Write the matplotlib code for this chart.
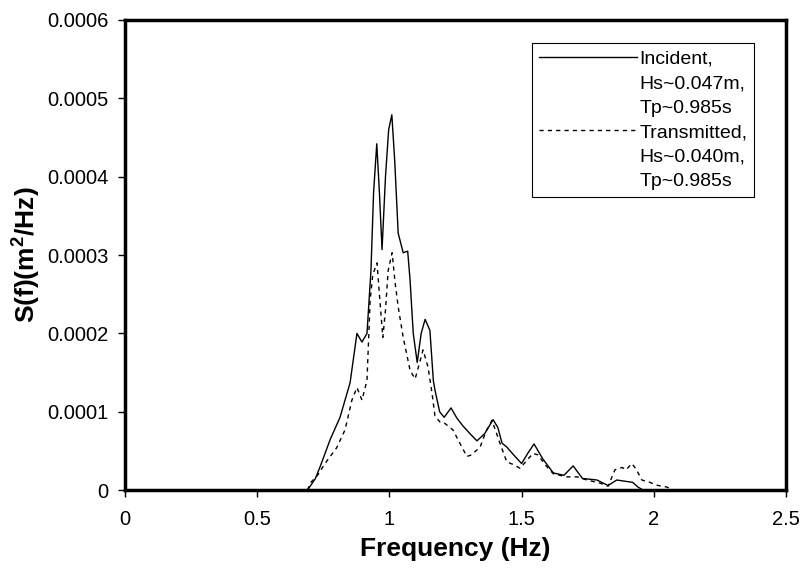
import matplotlib
matplotlib.use("Agg")
import matplotlib.pyplot as plt
from matplotlib.lines import Line2D
from matplotlib.ticker import FixedLocator, FuncFormatter

plt.rcParams["font.family"] = ["Liberation Sans", "DejaVu Sans"]
plt.rcParams["mathtext.fontset"] = "custom"
plt.rcParams["mathtext.rm"] = "Liberation Sans"
plt.rcParams["mathtext.bf"] = "Liberation Sans:bold"

S_UNIT = 1e-4  # spectra below are written in units of 1e-4 m^2/Hz

freq_inc = [0.69, 0.72, 0.74, 0.775, 0.813, 0.851, 0.877, 0.896, 0.915, 0.93,
            0.94, 0.952, 0.962, 0.972, 0.985, 0.997, 1.009, 1.02, 1.033, 1.052,
            1.069, 1.078, 1.09, 1.105, 1.12, 1.135, 1.153, 1.166, 1.172, 1.19,
            1.207, 1.233, 1.255, 1.278, 1.305, 1.331, 1.36, 1.392, 1.41, 1.426,
            1.444, 1.47, 1.50, 1.525, 1.547, 1.58, 1.62, 1.66, 1.695, 1.73,
            1.785, 1.827, 1.86, 1.92, 1.94, 1.96]
s_inc = [0.0, 0.15, 0.32, 0.64, 0.93, 1.37, 2.0, 1.89, 2.0, 2.8,
         3.8, 4.42, 3.8, 3.07, 4.0, 4.6, 4.79, 4.2, 3.28, 3.03,
         3.05, 2.68, 2.0, 1.63, 2.0, 2.18, 2.04, 1.40, 1.28, 1.0,
         0.93, 1.05, 0.92, 0.82, 0.72, 0.63, 0.72, 0.90, 0.80, 0.60,
         0.55, 0.45, 0.34, 0.48, 0.59, 0.40, 0.22, 0.19, 0.31, 0.15,
         0.13, 0.06, 0.13, 0.10, 0.04, 0.0]

freq_tr = [0.69, 0.70, 0.73, 0.756, 0.80, 0.832, 0.858, 0.877, 0.896, 0.915,
           0.927, 0.937, 0.953, 0.962, 0.975, 0.985, 0.995, 1.01, 1.021, 1.033,
           1.052, 1.078, 1.097, 1.112, 1.127, 1.146, 1.161, 1.172, 1.191, 1.203,
           1.24, 1.274, 1.293, 1.31, 1.343, 1.365, 1.388, 1.418, 1.444, 1.467,
           1.494, 1.52, 1.543, 1.562, 1.59, 1.62, 1.67, 1.71, 1.747, 1.797,
           1.827, 1.853, 1.88, 1.895, 1.917, 1.933, 1.955, 1.985, 2.016, 2.05,
           2.07]
s_tr = [0.0, 0.09, 0.20, 0.34, 0.54, 0.77, 1.15, 1.31, 1.15, 1.40,
        2.43, 2.75, 2.90, 2.5, 1.95, 2.3, 2.8, 3.03, 2.66, 2.34,
        1.95, 1.53, 1.42, 1.6, 1.79, 1.57, 1.24, 0.95, 0.87, 0.87,
        0.77, 0.55, 0.43, 0.45, 0.55, 0.75, 0.89, 0.60, 0.36, 0.33,
        0.28, 0.38, 0.47, 0.45, 0.32, 0.21, 0.17, 0.17, 0.13, 0.09,
        0.05, 0.26, 0.29, 0.26, 0.34, 0.27, 0.13, 0.10, 0.06, 0.04,
        0.0]

x_ticks = [0, 0.5, 1, 1.5, 2, 2.5]
y_ticks = [0, 0.0001, 0.0002, 0.0003, 0.0004, 0.0005, 0.0006]

inc_label = ["Incident,", "Hs~0.047m,", "Tp~0.985s"]
tr_label = ["Transmitted,", "Hs~0.040m,", "Tp~0.985s"]

fig = plt.figure(figsize=(8.02, 5.70), dpi=100)
ax = fig.add_axes([0.156, 0.140, 0.824, 0.825])

ax.plot(freq_inc, [v * S_UNIT for v in s_inc], color="black", lw=1.0)
ax.plot(freq_tr, [v * S_UNIT for v in s_tr], color="black", lw=1.0,
        dashes=(3, 3))

ax.set_xlim(0, 2.5)
ax.set_ylim(0, 0.0006)
ax.xaxis.set_major_locator(FixedLocator(x_ticks))
ax.yaxis.set_major_locator(FixedLocator(y_ticks))
ax.xaxis.set_major_formatter(FuncFormatter(lambda v, _: f"{v:g}"))
ax.yaxis.set_major_formatter(
    FuncFormatter(lambda v, _: "0" if v == 0 else f"{v:.4f}"))
ax.tick_params(direction="out", length=5, width=1, labelsize=14.5)
ax.tick_params(axis="y", pad=7)
ax.tick_params(axis="x", pad=9)
for sp in ax.spines.values():
    sp.set_linewidth(2.5)

ax.set_xlabel("Frequency (Hz)", fontsize=19, fontweight="bold", labelpad=6)
ax.set_ylabel(r"S(f)(m$^{\mathbf{2}}$/Hz)", fontsize=19, fontweight="bold",
              labelpad=4)

# one legend row per text line, with the sample line beside the first line
blank = Line2D([], [], color="none")
handles = [Line2D([], [], color="black", lw=1.0)] + [blank] * (len(inc_label) - 1)
handles += [Line2D([], [], color="black", lw=1.0, dashes=(3, 3))]
handles += [blank] * (len(tr_label) - 1)
leg = ax.legend(handles, inc_label + tr_label, loc="upper right",
                bbox_to_anchor=(0.952, 0.951), borderaxespad=0, fontsize=14,
                frameon=True, fancybox=False, edgecolor="black", framealpha=1,
                handlelength=5.0, handletextpad=0.15, labelspacing=0.36,
                borderpad=0.35)
leg.get_frame().set_linewidth(0.8)

fig.savefig("out.png", dpi=100)
